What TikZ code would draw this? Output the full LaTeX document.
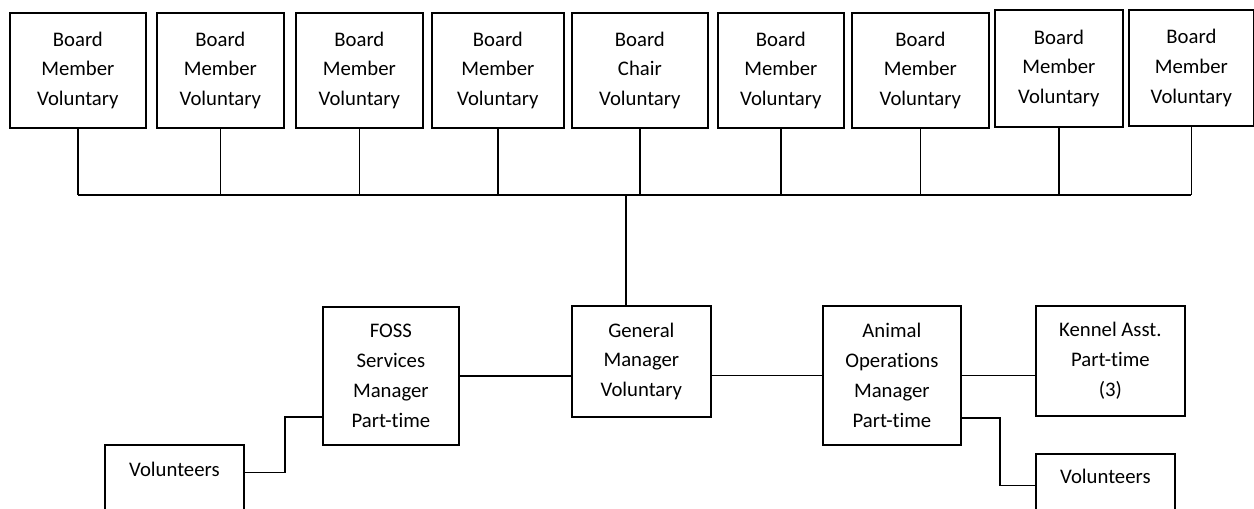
\documentclass[tikz,border=0pt]{standalone}
\usepackage{fontspec}
\setmainfont{Carlito}[Ligatures=NoCommon]
\tikzset{
	post/.style= {
		draw, line width=1pt,
		align=center, inner sep=0pt,
		anchor=north west,
		font=\fontsize{11.8}{17}\selectfont
	},
	link/.style={line width=0.9pt}
}

\begin{document}
\begin{tikzpicture}[x=0.02cm, y=-0.02cm]
\useasboundingbox (0,0) rectangle (1254,508);
\coordinate (bus) at (0,195);

% board row
\foreach \i/\x/\y/\w/\h/\role in {1/9/12/136/115/Member, 2/156/12/127/115/Member, 3/295/12/127/115/Member, 4/431/12/132/115/Member, 5/571/12/136/115/Chair, 6/717/12/126/115/Member, 7/851/12/137/115/Member, 8/994/9/128/117/Member, 9/1128/9/125/116/Member}{%
	\node[post, minimum width=\w*0.02cm, minimum height=\h*0.02cm] (b\i) at (\x,\y) {Board\\\role\\Voluntary};
	\draw[link] (b\i.south) -- (b\i.south |- bus);
}
\draw[link] (b1.south |- bus) -- (b9.south |- bus);

% staff row
\node[post, minimum width=139*0.02cm, minimum height=111*0.02cm] (gm) at (571,305) {General\\Manager\\Voluntary};
\node[post, minimum width=136*0.02cm, minimum height=138*0.02cm] (foss) at (322,306) {FOSS\\Services\\Manager\\Part-time};
\node[post, minimum width=138*0.02cm, minimum height=139*0.02cm] (ops) at (822,305) {Animal\\Operations\\Manager\\Part-time};
\node[post, minimum width=149*0.02cm, minimum height=110*0.02cm] (kennel) at (1035,305) {Kennel Asst.\\Part-time\\(3)};
\node[post, minimum width=139*0.02cm, text height=0.64cm, text depth=1.2cm] (volL) at (104,444) {Volunteers};
\node[post, minimum width=139*0.02cm, text height=0.6cm, text depth=1.2cm] (volR) at (1035,453) {Volunteers};

\draw[link] ([xshift=-0.31cm]gm.north) -- ([xshift=-0.31cm]gm.north |- bus);
\draw[link] (foss.east) -- (foss.east -| gm.west);
\draw[link] (ops.west) -- (ops.west -| gm.east);
\draw[link] (ops.east) -- (ops.east -| kennel.west);
\draw[link] (volL.mid east) -- ++(40,0) |- ([yshift=-0.82cm]foss.west);
\draw[link] ([yshift=0.56cm]ops.south east) -- ++(38,0) |- ([yshift=-0.12cm]volR.mid west);
\end{tikzpicture}
\end{document}
